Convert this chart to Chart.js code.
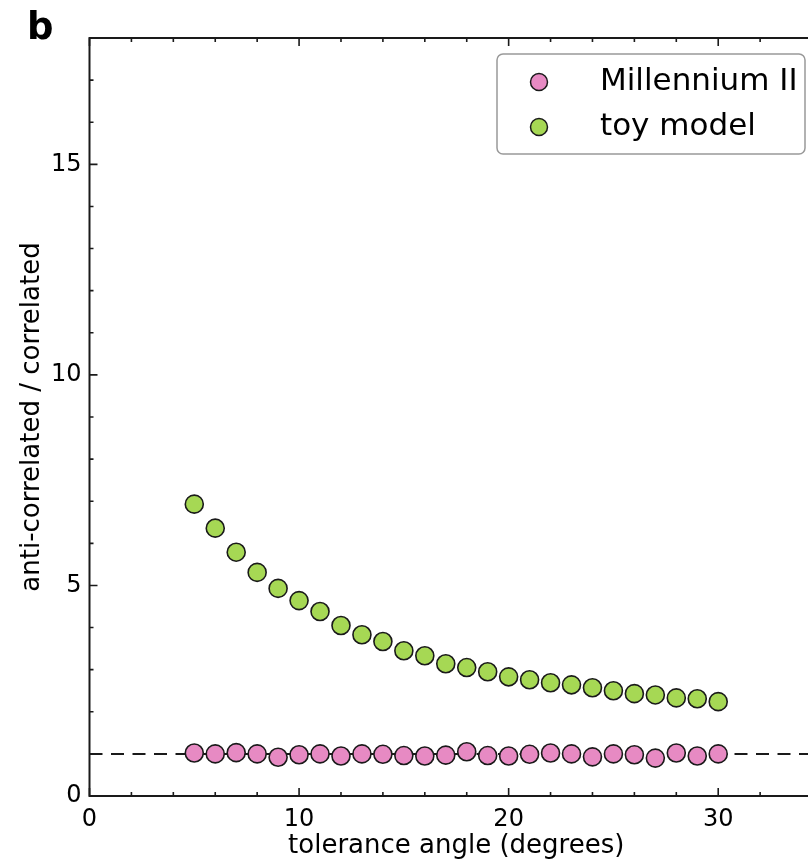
<!DOCTYPE html>
<html>
<head>
<meta charset="utf-8">
<script src="https://cdn.jsdelivr.net/npm/chart.js@4.4.1/dist/chart.umd.min.js"></script>
<style>
  html, body { margin: 0; padding: 0; background: #fff; overflow: hidden; }
  canvas { display: block; }
</style>
</head>
<body>
<canvas id="chartRatio" width="840" height="864"></canvas>
<script>
(function () {
    'use strict';

    /* ── Datos ──────────────────────────────────────────── */
    var ANGLES     = [5, 6, 7, 8, 9, 10, 11, 12, 13, 14, 15, 16, 17,
                      18, 19, 20, 21, 22, 23, 24, 25, 26, 27, 28, 29, 30];
    var MILLENNIUM = [1.02, 1.00, 1.03, 1.00, 0.92, 0.98, 1.00, 0.95, 1.00, 0.99, 0.96, 0.95, 0.97,
                      1.05, 0.96, 0.95, 0.99, 1.02, 1.00, 0.93, 1.00, 0.98, 0.90, 1.02, 0.95, 1.00];
    var TOY        = [6.93, 6.36, 5.79, 5.31, 4.93, 4.64, 4.38, 4.05, 3.83, 3.67, 3.45, 3.33, 3.14,
                      3.05, 2.95, 2.83, 2.76, 2.69, 2.64, 2.57, 2.50, 2.43, 2.40, 2.33, 2.31, 2.24];
    var SERIES     = ['Millennium II', 'toy model'];
    var X_LABELS   = [0, 10, 20, 30];
    var Y_LABELS   = [0, 5, 10, 15];
    var X_RANGE    = [0, 35];
    var Y_RANGE    = [0, 18];
    var REF_LEVEL  = 1;

    /* ── Colores ────────────────────────────────────────── */
    var PINK  = '#e78ac3';
    var GREEN = '#a6d854';
    var INK   = '#1a1a1a';
    var FONT  = '"DejaVu Sans", sans-serif';

    function toPoints(xs, ys) {
        return xs.map(function (x, i) { return { x: x, y: ys[i] }; });
    }

    /* ── Marco, ticks hacia dentro, panel "b" y leyenda ── */
    var framePlugin = {
        id: 'frame',
        afterDraw: function (chart) {
            var ctx = chart.ctx;
            var a = chart.chartArea;
            var xs = chart.scales.x, ys = chart.scales.y;
            ctx.save();
            ctx.strokeStyle = INK;
            ctx.lineWidth = 1.6;

            xs.ticks.forEach(function (t) {
                if (t.value % 2 !== 0) return;
                var px = xs.getPixelForValue(t.value);
                var len = t.value % 10 === 0 ? 8 : 4;
                ctx.beginPath();
                ctx.moveTo(px, a.bottom); ctx.lineTo(px, a.bottom - len);
                ctx.moveTo(px, a.top);    ctx.lineTo(px, a.top + len);
                ctx.stroke();
            });
            ys.ticks.forEach(function (t) {
                var py = ys.getPixelForValue(t.value);
                var len = t.value % 5 === 0 ? 8 : 4;
                ctx.beginPath();
                ctx.moveTo(a.left, py);  ctx.lineTo(a.left + len, py);
                ctx.moveTo(a.right, py); ctx.lineTo(a.right - len, py);
                ctx.stroke();
            });
            ctx.lineWidth = 2;
            ctx.strokeRect(a.left, a.top, a.right - a.left, a.bottom - a.top);

            // etiqueta del panel
            ctx.fillStyle = '#000';
            ctx.font = 'bold 37px ' + FONT;
            ctx.textBaseline = 'alphabetic';
            ctx.fillText('b', 27, 39);

            // leyenda
            var lx = 497, ly = 54, lw = 308, lh = 100, r = 6;
            ctx.beginPath();
            ctx.roundRect(lx, ly, lw, lh, r);
            ctx.fillStyle = 'rgba(255,255,255,0.85)';
            ctx.fill();
            ctx.strokeStyle = '#999';
            ctx.lineWidth = 1.5;
            ctx.stroke();

            var colors = [PINK, GREEN];
            SERIES.forEach(function (label, i) {
                var cy = 82 + i * 45;
                ctx.beginPath();
                ctx.arc(539, cy, 8.5, 0, Math.PI * 2);
                ctx.fillStyle = colors[i];
                ctx.fill();
                ctx.strokeStyle = INK;
                ctx.lineWidth = 1.5;
                ctx.stroke();
                ctx.fillStyle = '#000';
                ctx.font = '31px ' + FONT;
                ctx.fillText(label, 600, 90 + i * 45);
            });
            ctx.restore();
        }
    };

    /* ── Gráfico ─────────────────────────────────────────── */
    var ctx = document.getElementById('chartRatio');
    new Chart(ctx, {
        type: 'scatter',
        data: {
            datasets: [
                {
                    label:            SERIES[0],
                    data:             toPoints(ANGLES, MILLENNIUM),
                    backgroundColor:  PINK,
                    borderColor:      INK,
                    borderWidth:      1.6,
                    pointRadius:      9,
                    order:            2
                },
                {
                    label:            SERIES[1],
                    data:             toPoints(ANGLES, TOY),
                    backgroundColor:  GREEN,
                    borderColor:      INK,
                    borderWidth:      1.6,
                    pointRadius:      9,
                    order:            1
                },
                {
                    type:             'line',
                    label:            'ref',
                    data:             toPoints(X_RANGE, [REF_LEVEL, REF_LEVEL]),
                    borderColor:      INK,
                    borderWidth:      2,
                    borderDash:       [13, 8.5],
                    pointRadius:      0,
                    fill:             false,
                    order:            3
                }
            ]
        },
        options: {
            responsive: false,
            animation: false,
            layout: { padding: { left: 0, top: 38, right: 17, bottom: 0 } },
            plugins: {
                legend:  { display: false },
                tooltip: { enabled: false }
            },
            scales: {
                x: {
                    type: 'linear',
                    min: X_RANGE[0],
                    max: X_RANGE[1],
                    grid:   { display: false, drawTicks: false },
                    border: { display: false },
                    ticks: {
                        stepSize: 2,
                        autoSkip: false,
                        maxRotation: 0,
                        padding: 9,
                        color: '#000',
                        font: { family: FONT, size: 24 },
                        callback: function (v) { return X_LABELS.indexOf(v) >= 0 ? String(v) : ''; }
                    },
                    title: {
                        display: true,
                        text: 'tolerance angle (degrees)',
                        color: '#000',
                        font: { family: FONT, size: 26 },
                        padding: { top: 0, bottom: 2 }
                    },
                    afterFit: function (s) { s.height = 68; }
                },
                y: {
                    min: Y_RANGE[0],
                    max: Y_RANGE[1],
                    grid:   { display: false, drawTicks: false },
                    border: { display: false },
                    ticks: {
                        stepSize: 1,
                        autoSkip: false,
                        padding: 8,
                        color: '#000',
                        font: { family: FONT, size: 24 },
                        callback: function (v) { return Y_LABELS.indexOf(v) >= 0 ? String(v) : ''; }
                    },
                    title: {
                        display: true,
                        text: 'anti-correlated / correlated',
                        color: '#000',
                        font: { family: FONT, size: 26 },
                        padding: { top: 17, bottom: 0 }
                    },
                    afterFit: function (s) { s.width = 89.5; }
                }
            }
        },
        plugins: [framePlugin]
    });
})();
</script>
</body>
</html>
